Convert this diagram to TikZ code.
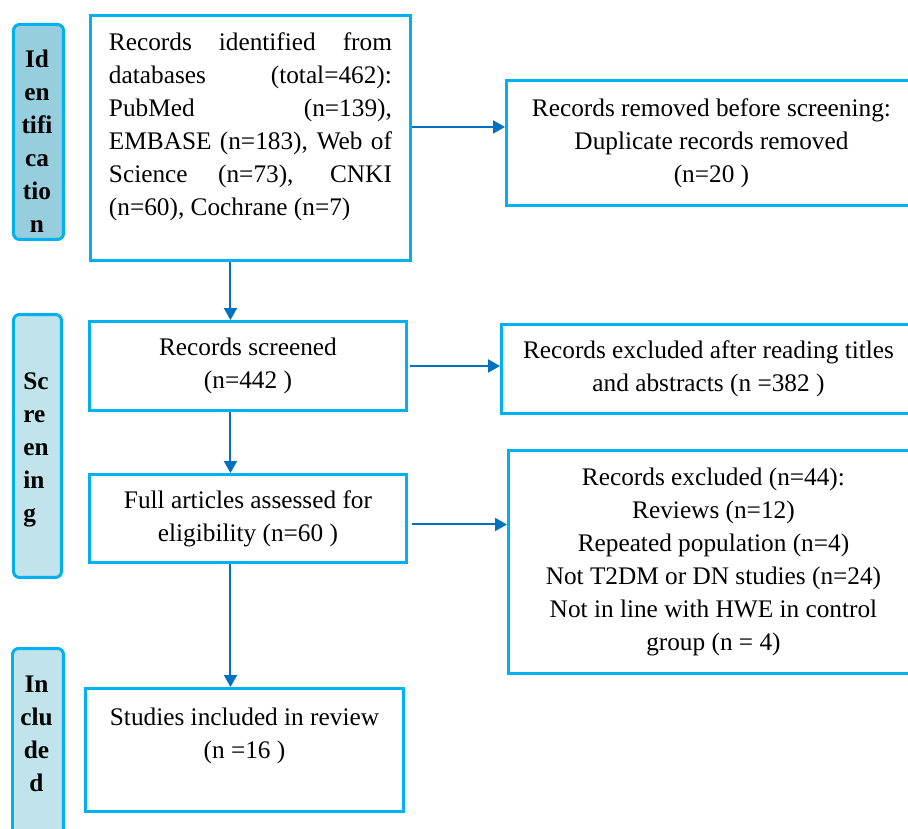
\documentclass[tikz,border=0pt]{standalone}
\usepackage{fontspec}
\setmainfont{Liberation Serif}
\usepackage{tikz}
\usetikzlibrary{arrows.meta,shapes,positioning}
\usepackage{color}

\definecolor{boxblue}{RGB}{0,176,240}
\definecolor{arrowblue}{RGB}{0,112,192}
\definecolor{idfill}{RGB}{150,206,222}
\definecolor{stagefill}{RGB}{192,227,236}

\tikzset{
  box/.style={draw=boxblue, line width=0.06cm, rectangle, anchor=north west, inner sep=0pt, align=center},
  stagebar/.style={draw=boxblue, line width=0.06cm, rounded corners=0.12cm, anchor=north west, fill=stagefill, inner sep=0pt},
  stagetext/.style={font=\bfseries, align=center, inner sep=0pt},
  arr/.style={draw=arrowblue, line width=0.04cm, -{Triangle[length=0.24cm,width=0.26cm]}}
}

\begin{document}
\begin{tikzpicture}[x=0.02cm, y=-0.02cm]
\fontsize{14.4}{18.8}\selectfont
\useasboundingbox (0,0) rectangle (908,828);
\clip (0,0) rectangle (908,828);

% stage bars on the left
\node [stagebar, fill=idfill, minimum width=1cm, minimum height=4.3cm] (idbar) at (12,23) {};
\node [stagetext] (idtxt) at (37,141) {Id\\en\\tifi\\ca\\tio\\n};

\node [stagebar, minimum width=0.96cm, minimum height=5.26cm] (scbar) at (12,313) {};
\node [stagetext, align=left, anchor=west] (sctxt) at (23,450) {Sc\\re\\en\\in\\g};

\node [stagebar, minimum width=1.02cm, minimum height=3.9cm] (inbar) at (11,647) {};
\node [stagetext] (intxt) at (36.5,734) {In\\clu\\de\\d};

% % % % % % % % % % % % % % % % % % % % % % % % % %

% main column
\node [box, minimum width=6.4cm, minimum height=4.9cm, text width=5.66cm, align=justify, text depth=3.85cm] (ident) at (89,14)
  {\noindent Records identified from\linebreak databases (total=462):\linebreak PubMed (n=139),\linebreak EMBASE (n=183), Web of\linebreak Science (n=73), CNKI\linebreak (n=60), Cochrane (n=7)};
\node [box, minimum width=6.34cm, minimum height=1.78cm] (screened) at (88,320) {Records screened\\(n=442 )};
\node [box, minimum width=6.34cm, minimum height=1.76cm] (fulltext) at (88,473) {Full articles assessed for\\eligibility (n=60 )};
\node [box, minimum width=6.36cm, minimum height=2.46cm] (included) at (84,687) {Studies included in review\\(n =16 )\\\mbox{}};

% right column
\node [box, minimum width=8.2cm, minimum height=2.5cm] (removed) at (505,79) {Records removed before screening:\\Duplicate records removed\\(n=20 )};
\node [box, minimum width=8.28cm, minimum height=1.78cm] (exclA) at (500,323) {Records excluded after reading titles\\and abstracts (n =382 )};
\node [box, minimum width=8.2cm, minimum height=4.46cm] (exclB) at (507,449) {Records excluded (n=44):\\Reviews (n=12)\\Repeated population (n=4)\\Not T2DM or DN studies (n=24)\\Not in line with HWE in control\\group (n = 4)};

% arrows
\draw [arr] ([xshift=-0.4cm]ident.south) -- ([xshift=-0.4cm]ident.south |- screened.north);
\draw [arr] ([xshift=-0.35cm]screened.south) -- ([xshift=-0.35cm]screened.south |- fulltext.north);
\draw [arr] ([xshift=-0.35cm]fulltext.south) -- ([xshift=-0.35cm]fulltext.south |- included.north);

\draw [arr] ([yshift=0.22cm]ident.east) -- ([yshift=0.22cm]ident.east -| removed.west);
\draw [arr, shorten <=0.04cm] (screened.east) -- (screened.east -| exclA.west);
\draw [arr, shorten <=0.08cm] ([yshift=-0.12cm]fulltext.east) -- ([yshift=-0.12cm]fulltext.east -| exclB.west);
\end{tikzpicture}
\end{document}
